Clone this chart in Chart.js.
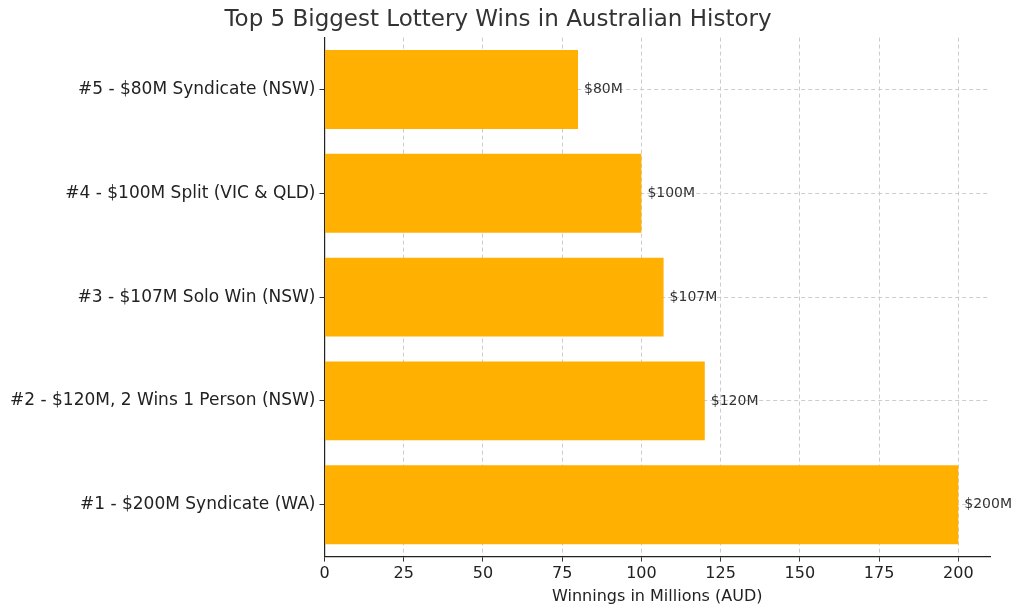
<!DOCTYPE html>
<html><head><meta charset="utf-8">
<script src="https://cdn.jsdelivr.net/npm/chart.js@4"></script>
<style>html,body{margin:0;padding:0;background:#fff}</style>
</head><body>
<canvas id="c" width="1024" height="608"></canvas>
<script>
const categories = ["#5 - $80M Syndicate (NSW)","#4 - $100M Split (VIC & QLD)","#3 - $107M Solo Win (NSW)","#2 - $120M, 2 Wins 1 Person (NSW)","#1 - $200M Syndicate (WA)"];
const winnings = [80,100,107,120,200];
const xTicks = [0,25,50,75,100,125,150,175,200];

const valueLabels = {
  id:'valueLabels',
  afterDatasetsDraw(chart){
    const ctx=chart.ctx;
    const meta=chart.getDatasetMeta(0);
    ctx.save();
    ctx.font='14px "DejaVu Sans"';
    ctx.fillStyle='#333';
    ctx.textBaseline='middle';
    meta.data.forEach((b,i)=>{ctx.fillText('$'+winnings[i]+'M', b.x+6, b.y);});
    ctx.restore();
  }
};

new Chart(document.getElementById('c'),{
  type:'bar',
  data:{labels:categories,datasets:[{data:winnings,backgroundColor:'#FFB000',categoryPercentage:1,barPercentage:0.76}]},
  options:{
    indexAxis:'y',responsive:false,animation:false,
    layout:{padding:{left:6,right:34,top:4,bottom:0}},
    plugins:{legend:{display:false},tooltip:{enabled:false},
      title:{display:true,text:'Top 5 Biggest Lottery Wins in Australian History',color:'#333',font:{family:'DejaVu Sans',size:23,weight:'normal'},padding:{top:2,bottom:4}}},
    scales:{
      x:{min:0,max:210,afterBuildTicks(s){s.ticks=xTicks.map(v=>({value:v}));},
        ticks:{color:'#222',font:{family:'DejaVu Sans',size:16},padding:3},
        grid:{color:'#cccccc',drawTicks:true,tickColor:'#333',tickLength:5},
        border:{display:true,color:'#222',width:1.2,dash:[4,3]},
        title:{display:true,text:'Winnings in Millions (AUD)',color:'#222',font:{family:'DejaVu Sans',size:16},padding:{top:0,bottom:2}}},
      y:{ticks:{color:'#222',font:{family:'DejaVu Sans',size:17},padding:4},
        grid:{offset:false,color:'#cccccc',tickColor:'#333',tickLength:5},
        border:{display:true,color:'#222',width:1.2,dash:[4,3]}}
    }
  },
  plugins:[valueLabels]
});
</script>
</body></html>
